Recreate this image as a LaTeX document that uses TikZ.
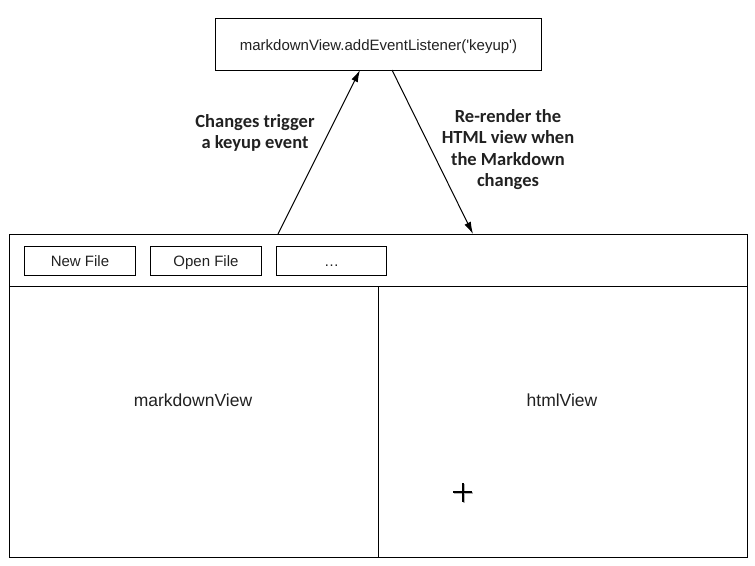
\documentclass[tikz,border=0pt]{standalone}
\usepackage{fontspec}
\setmainfont{Liberation Sans}
\newfontfamily\notefont{Carlito}
\usepackage{tikz}
\usetikzlibrary{shapes,calc,positioning,arrows.meta}
\definecolor{inkgray}{rgb}{0.13,0.13,0.13}
\definecolor{shadowgray}{rgb}{0.7,0.7,0.7}

\tikzset{
  box/.style={draw, line width=1pt, inner sep=0pt, minimum width=111pt, minimum height=29pt,
    text height=13pt, text depth=1pt, text=inkgray, font=\fontsize{15}{18}\selectfont},
  pane/.style={draw, line width=1pt, inner sep=0pt},
  note/.style={text=inkgray, align=center, font=\notefont\bfseries\fontsize{18.5}{21.5}\selectfont},
  plain/.style={text=inkgray, font=\fontsize{17.5}{21}\selectfont},
}

\begin{document}
\begin{tikzpicture}[x=1pt,y=-1pt]
    \useasboundingbox (0,0) rectangle (755,565);
    % Event listener
    \node[box, minimum width=326pt, minimum height=52pt] (listener) at (378.5,44) {markdownView.addEventListener(\textquotesingle keyup\textquotesingle)};
    % Window: toolbar and the two panes
    \node[pane, minimum width=738pt, minimum height=52pt] (toolbar) at (378,260) {};
    \node[pane, minimum width=369pt, minimum height=271pt] (mdpane) at (193.5,421.5) {};
    \node[pane, minimum width=369pt, minimum height=271pt] (htmlpane) at (562.5,421.5) {};
    % Buttons
    \node[box] (newfile) at (80,260.5) {New File};
    \node[box, right=14pt of newfile] (openfile) {Open File};
    \node[box, right=14pt of openfile, minimum width=110pt] (more) {\ldots};
    % Pane labels
    \node[plain] (mdlabel) at (193,400) {markdownView};
    \node[plain] (htmllabel) at (562,400) {htmlView};
    % Arrow ends
    \coordinate (upstart) at (278,234);
    \coordinate (upend) at (360,70);
    \coordinate (downstart) at (392,70);
    \coordinate (downend) at (473,234);
    \draw[-{Latex[length=12pt,width=7pt]}, line width=1pt] (upstart) -- (upend);
    \draw[-{Latex[length=12pt,width=7pt]}, line width=1pt] (downstart) -- (downend);
    % Arrow notes
    \node[note] (keyupnote) at (255,133) {Changes trigger\\a keyup event};
    \node[note] (rendernote) at (508,149.5) {Re-render the\\HTML view when\\the Markdown\\changes};
    % Mouse cursor
    \draw[shadowgray, line width=2.6pt] (454,493) -- (473,493) (464,484) -- (464,503);
    \draw[black, line width=1.6pt] (453,492) -- (472,492) (463,483) -- (463,502);
\end{tikzpicture}
\end{document}
